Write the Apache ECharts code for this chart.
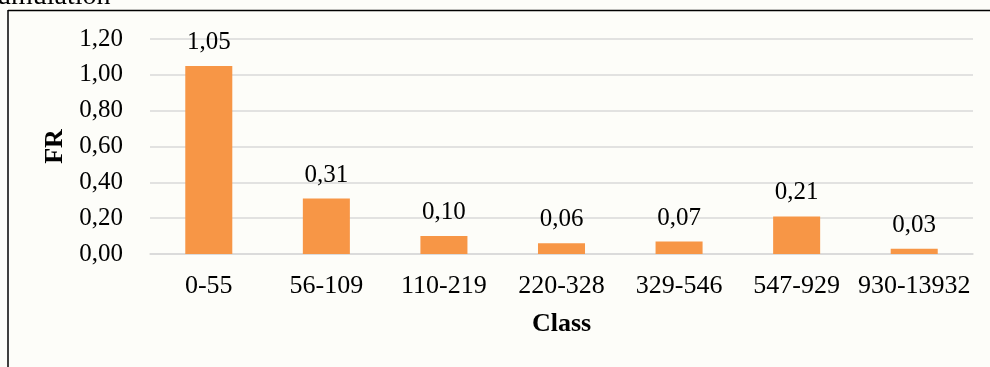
<!DOCTYPE html>
<html lang="en">
<head>
    <meta charset="UTF-8">
    <script src="https://cdn.jsdelivr.net/npm/echarts@6/dist/echarts.min.js"></script>
    <style>
        html, body { margin: 0; padding: 0; background: #fdfdf9; }
    </style>
</head>
<body>
<div id="main" style="width: 990px;height:367px;"></div>
<script type="text/javascript">
    var classes = ['0-55', '56-109', '110-219', '220-328', '329-546', '547-929', '930-13932'];
    var frValues = [1.05, 0.31, 0.10, 0.06, 0.07, 0.21, 0.03];

    function comma(v) {
        return Number(v).toFixed(2).replace('.', ',');
    }

    var myChart = echarts.init(document.getElementById('main'));
    var font = 'Liberation Serif';

    var option = {
        backgroundColor: '#fdfdf9',
        textStyle: { fontFamily: font },
        graphic: [
            {
                type: 'text',
                style: { x: -3, y: 11, text: 'umulation', fontSize: 28, fontFamily: font, fill: '#000', verticalAlign: 'bottom' }
            },
            {
                type: 'line',
                shape: { x1: 8, y1: 10.5, x2: 990, y2: 10.5 },
                style: { stroke: '#000', lineWidth: 1.5 }
            },
            {
                type: 'line',
                shape: { x1: 8, y1: 10, x2: 8, y2: 367 },
                style: { stroke: '#000', lineWidth: 1.5 }
            }
        ],
        grid: { left: 150, right: 17, top: 39, bottom: 113 },
        xAxis: {
            type: 'category',
            data: classes,
            name: 'Class',
            nameLocation: 'middle',
            nameGap: 57,
            nameTextStyle: { fontSize: 26, fontWeight: 'bold', color: '#000', fontFamily: font },
            axisLine: { lineStyle: { color: '#d9d9d9', width: 1.5 } },
            axisTick: { show: false },
            axisLabel: { fontSize: 26, color: '#000', margin: 19, fontFamily: font, interval: 0 }
        },
        yAxis: {
            type: 'value',
            min: 0,
            max: 1.2,
            interval: 0.2,
            name: 'FR',
            nameLocation: 'middle',
            nameRotate: 90,
            nameGap: 79,
            nameTextStyle: { fontSize: 26, fontWeight: 'bold', color: '#000', fontFamily: font },
            axisLine: { show: false },
            axisTick: { show: false },
            axisLabel: { fontSize: 25, color: '#000', margin: 27, fontFamily: font, formatter: comma },
            splitLine: { lineStyle: { color: '#d9d9d9', width: 1.5 } }
        },
        series: [{
            name: 'FR',
            type: 'bar',
            data: frValues,
            barWidth: '40%',
            itemStyle: { color: '#F79646' },
            label: {
                show: true,
                position: 'top',
                distance: 11,
                fontSize: 25,
                color: '#000',
                fontFamily: font,
                formatter: function (p) { return comma(p.value); }
            }
        }]
    };

    myChart.setOption(option);
</script>
</body>
</html>
